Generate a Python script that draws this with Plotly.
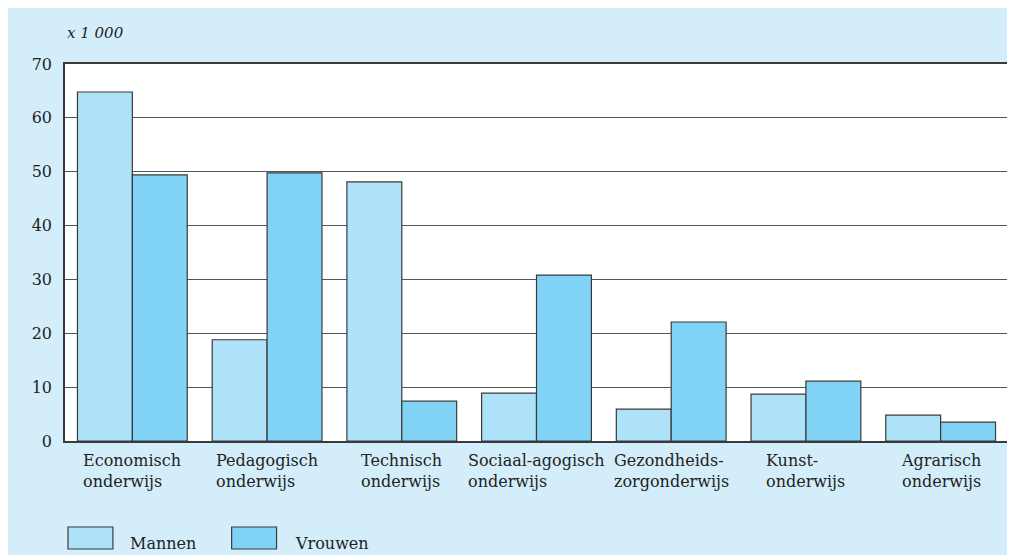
import plotly.graph_objects as go

# Ingeschrevenen hbo naar geslacht en sector (x 1 000)
sectoren = [
    "Economisch<br>onderwijs",
    "Pedagogisch<br>onderwijs",
    "Technisch<br>onderwijs",
    "Sociaal-agogisch<br>onderwijs",
    "Gezondheids-<br>zorgonderwijs",
    "Kunst-<br>onderwijs",
    "Agrarisch<br>onderwijs",
]
mannen = [64.8, 18.8, 48.1, 8.9, 5.9, 8.7, 4.8]
vrouwen = [49.4, 49.8, 7.4, 30.8, 22.1, 11.1, 3.5]
y_ticks = [0, 10, 20, 30, 40, 50, 60, 70]

C_MANNEN = "#ade2f9"
C_VROUWEN = "#80d3f5"
C_PANEL = "#d3eefa"
C_LINE = "#3a3a3a"
FONT = "DejaVu Serif, serif"

# pagina heeft 8px marge; figuur begint op (8, 8)
OFF = 8
W, H = 1007, 547
M = dict(l=57, r=5, t=56, b=114)
pw = W - M["l"] - M["r"]
ph = H - M["t"] - M["b"]


def px(x):
    # x in pagina-pixels -> paper
    return (x - OFF - M["l"]) / pw


def py(y):
    return (H + OFF - M["b"] - y) / ph


fig = go.Figure()
fig.add_trace(go.Bar(
    name="Mannen", x=sectoren, y=mannen,
    marker=dict(color=C_MANNEN, line=dict(color=C_LINE, width=1.2)),
))
fig.add_trace(go.Bar(
    name="Vrouwen", x=sectoren, y=vrouwen,
    marker=dict(color=C_VROUWEN, line=dict(color=C_LINE, width=1.2)),
))

shapes = []
annotations = [
    dict(text="2.3.2  Ingeschrevenen hbo naar geslacht en sector, 2003/'04", xref="paper", yref="paper",
         x=px(2), y=py(6), xanchor="left", yanchor="bottom", showarrow=False,
         font=dict(family=FONT, size=17, color="#222")),
    dict(text="<i>x 1 000</i>", xref="paper", yref="paper", x=px(65), y=py(33),
         xanchor="left", yanchor="middle", showarrow=False,
         font=dict(family=FONT, size=15, color="#222")),
]
for s in sectoren:
    annotations.append(dict(
        text=s, xref="x", yref="paper", x=s, y=py(449), xanchor="center", yanchor="top",
        align="left", showarrow=False, font=dict(family=FONT, size=16, color="#222"),
    ))

# legenda
for naam, kleur, bx, tx in [("Mannen", C_MANNEN, 68, 128), ("Vrouwen", C_VROUWEN, 232, 293)]:
    shapes.append(dict(type="rect", xref="paper", yref="paper", x0=px(bx), x1=px(bx + 45),
                       y0=py(549), y1=py(527), fillcolor=kleur, line=dict(color=C_LINE, width=1.2)))
    annotations.append(dict(text=naam, xref="paper", yref="paper", x=px(tx), y=py(543),
                            xanchor="left", yanchor="middle", showarrow=False,
                            font=dict(family=FONT, size=16, color="#222")))

fig.update_layout(
    width=W, height=H, margin=M,
    paper_bgcolor=C_PANEL, plot_bgcolor="white",
    barmode="group", bargap=0.185, bargroupgap=0,
    showlegend=False,
    font=dict(family=FONT, size=16, color="#222"),
    xaxis=dict(showticklabels=False, showline=True, linecolor=C_LINE, linewidth=1.5,
               mirror=True, ticks=""),
    yaxis=dict(range=[0, 70], tickvals=y_ticks, showgrid=True, gridcolor="#555",
               gridwidth=1, showline=True, linecolor=C_LINE, linewidth=1.5, mirror=True,
               ticks="", zeroline=False, ticklabelstandoff=8),
    shapes=shapes, annotations=annotations,
)

fig.write_html("out.html")
